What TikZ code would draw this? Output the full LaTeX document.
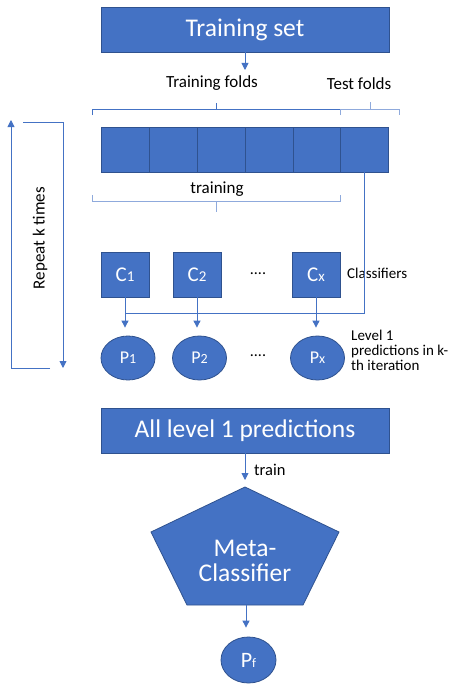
\documentclass[tikz,border=0pt]{standalone}
\usepackage{fontspec}
\setmainfont{Carlito}
\usetikzlibrary{arrows.meta,shapes.geometric}
\definecolor{blu}{HTML}{4472C4}
\definecolor{bluedge}{HTML}{2F528F}
\definecolor{lightblu}{HTML}{8FAADC}
\newcommand{\fs}[1]{\fontsize{#1}{#1}\selectfont}
\begin{document}
\begin{tikzpicture}[x=1pt,y=-1pt,
  shape box/.style={draw=bluedge, fill=blu, line width=0.8pt, text=white, inner sep=0pt},
  bigbox/.style={shape box, rectangle, minimum width=288pt, minimum height=45pt, font=\fs{25.5}},
  cell/.style={shape box, rectangle, minimum width=48pt, minimum height=45pt},
  pred/.style={shape box, ellipse, minimum width=54pt, minimum height=44pt},
  conn/.style={draw=blu, line width=0.9pt},
  arr/.style={conn, -{Triangle[width=7pt,length=7pt]}},
  bracket/.style={draw=blu, line width=0.9pt},
  lbracket/.style={draw=lightblu, line width=1pt},
  lbl/.style={inner sep=0pt, text=black}
]
\useasboundingbox (0,0) rectangle (454,693);
\fill[white] (0,0) rectangle (454,693);

% top box
\node[bigbox] (ts) at (245,29.5) {Training set};
\coordinate (tsend) at (245,70);
\draw[arr] (ts.south) -- (tsend);

\node[lbl, font=\fs{17}] (tf) at (212,83.5) {Training folds};
\node[lbl, font=\fs{17}] (testf) at (359,83.5) {Test folds};

% brackets above the folds
\draw[bracket] (92,115) -- (92,109) -- (340,109) -- (340,115);
\draw[bracket] (216,109) -- (216,103);
\draw[lbracket] (340,115) -- (340,109) -- (399,109) -- (399,115);
\draw[lbracket] (370,109) -- (370,102);

% fold bar
\foreach \i/\x in {1/125,2/173,3/221,4/269,5/317,6/364.5}
  \node[cell] (f\i) at (\x,149.5) {};

\node[lbl, font=\fs{17}] (trn) at (217,189) {training};
\draw[lbracket] (92,195) -- (92,201) -- (340,201) -- (340,195);
\draw[lbracket] (216,201) -- (216,212);

% classifiers
\node[cell, font=\fs{21}] (c1) at (125,274.5) {C{\fs{15}1}};
\node[cell, font=\fs{21}] (c2) at (197,274.5) {C{\fs{15}2}};
\node[cell, font=\fs{21}] (cx) at (316,274.5) {C{\fs{15}x}};
\node[lbl, font=\fs{16}, anchor=base] (dots1) at (258,274) {....};
\node[lbl, font=\fs{15}, anchor=west] (clf) at (347,273) {Classifiers};

% level 1 predictions
\node[pred, font=\fs{18}] (p1) at (128,358) {P{\fs{14}1}};
\node[pred, font=\fs{18}] (p2) at (199.5,358) {P{\fs{14}2}};
\node[pred, font=\fs{18}] (px) at (317.5,358) {P{\fs{14}x}};
\node[lbl, font=\fs{16}, anchor=base] (dots2) at (258,356) {....};
\node[lbl, font=\fs{15}, anchor=north west, align=left] (lvl) at (351,330)
  {\fontsize{15}{17.5}\selectfont Level 1\\predictions in k-\\th iteration};

% test fold feeds the classifiers' outputs
\coordinate (join) at (125,313);
\draw[conn] (f6.south) |- (join);
\draw[arr, shorten >=8pt] (c1.south) -- (c1.south |- p1.north);
\draw[arr, shorten >=8pt] (c2.south) -- (c2.south |- p2.north);
\draw[arr, shorten >=8pt] (cx.south) -- (cx.south |- px.north);

% repeat loop
\coordinate (lb) at (50,368);
\coordinate (lt) at (11,120);
\coordinate (rt) at (23,122);
\coordinate (rb) at (63,368);
\draw[arr] (lb) -| (lt);
\draw[arr] (rt) -| (rb);
\node[lbl, font=\fs{17}, rotate=90] (rep) at (40,238) {Repeat k times};

% all predictions
\node[bigbox] (allp) at (245,430.5) {All level 1 predictions};
\coordinate (mtop) at (245,487);
\coordinate (mbot) at (246,605);
\draw[arr, shorten >=7pt] (allp.south) -- (mtop);
\node[lbl, font=\fs{16.5}, anchor=west] (trainlbl) at (254,470) {train};

% meta-classifier pentagon
\path[shape box] (mtop) -- (339,532) -- (303,605) -- (187,605) -- (151,532) -- cycle;
\node[lbl, text=white, font=\fs{25.5}, align=center] (meta) at (245,561)
  {\fontsize{25.5}{31}\selectfont Meta-\\Classifier};

% final prediction
\node[pred, font=\fs{22}, minimum width=55pt, minimum height=46pt] (pf) at (248.5,660) {P{\fs{13}f}};
\draw[arr, shorten >=9pt] (mbot) -- (mbot |- pf.north);
\end{tikzpicture}
\end{document}
